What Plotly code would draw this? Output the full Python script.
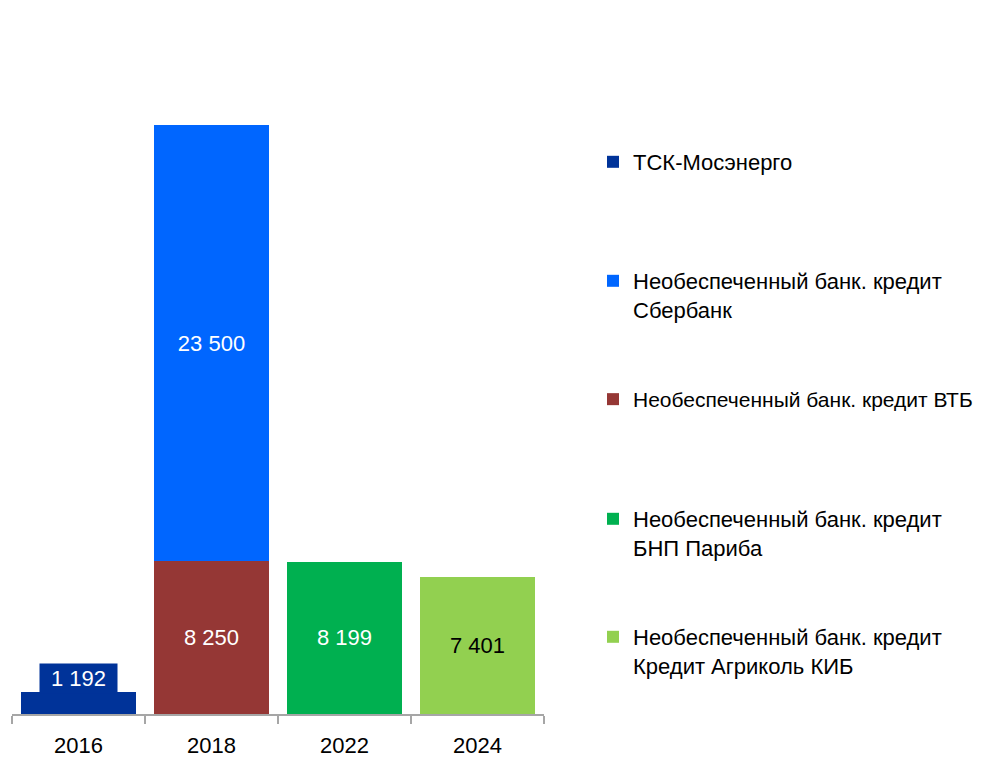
import plotly.graph_objects as go

categories = ["2016", "2018", "2022", "2024"]

names = [
    "ТСК-Мосэнерго",
    "Необеспеченный банк. кредит<br>Сбербанк",
    "Необеспеченный банк. кредит ВТБ",
    "Необеспеченный банк. кредит<br>БНП Париба",
    "Необеспеченный банк. кредит<br>Кредит Агриколь КИБ",
]
mosenergo = [1192, None, None, None]
sberbank = [None, 23500, None, None]
vtb = [None, 8250, None, None]
bnp = [None, None, 8199, None]
agricole = [None, None, None, 7401]

colors = ["#003399", "#0066FF", "#953735", "#00B050", "#92D050"]
text_colors = ["white", "white", "white", "white", "black"]

FONT = "Liberation Sans Narrow, Arial Narrow, Liberation Sans, Arial, sans-serif"
FS = 22

def fmt(v):
    return "" if v is None else f"{v:,}".replace(",", " ")

series = [mosenergo, sberbank, vtb, bnp, agricole]
# stacking order (bottom first): ВТБ below Сбербанк
draw_order = [0, 2, 1, 3, 4]
legend_ids = ["legend", "legend2", "legend3", "legend4", "legend5"]
legend_tops = [133, 252, 371, 490, 608]
legend_sizes = [FS, FS, 21, FS, FS]

fig = go.Figure()
for i in draw_order:
    vals = series[i]
    fig.add_trace(go.Bar(
        x=categories, y=vals, name=names[i],
        marker=dict(color=colors[i], line=dict(width=0)),
        text=[fmt(v) for v in vals] if i != 0 else None,
        textposition="inside" if i != 0 else "none",
        insidetextanchor="middle",
        textfont=dict(color=text_colors[i], size=FS, family=FONT),
        constraintext="none",
        legend=legend_ids[i],
        showlegend=True,
    ))

# label with filled box for the small 2016 bar
fig.add_annotation(
    x=categories.index("2016"), y=mosenergo[0], xref="x", yref="y",
    text=fmt(mosenergo[0]), showarrow=False, yanchor="bottom",
    font=dict(color="white", size=FS, family=FONT),
    bgcolor=colors[0], width=75, height=27, borderpad=1, yshift=-2,
)

legend_layout = {}
for k, lid in enumerate(legend_ids):
    legend_layout[lid] = dict(
        x=585 / 994, y=1 - legend_tops[k] / 758,
        xref="container", yref="container",
        xanchor="left", yanchor="top",
        valign="top",
        font=dict(size=legend_sizes[k], family=FONT, color="black"),
        bgcolor="rgba(0,0,0,0)",
    )

fig.update_layout(
    width=994, height=758,
    barmode="stack", bargap=0.13,
    plot_bgcolor="white", paper_bgcolor="white",
    margin=dict(l=4, r=458, t=57, b=52),
    font=dict(family=FONT, size=FS, color="black"),
    xaxis=dict(
        type="category", range=[-0.5, len(categories) - 0.5],
        showline=True, linecolor="#A6A6A6", linewidth=1.5,
        ticks="outside", tickson="boundaries", ticklen=8, tickcolor="#A6A6A6",
        tickwidth=1.5, tickfont=dict(size=FS, family=FONT, color="black"),
        ticklabelstandoff=11,
        tickangle=0, showgrid=False,
    ),
    yaxis=dict(range=[0, 35000], visible=False, showgrid=False),
    **legend_layout,
)

fig.write_html("out.html")
